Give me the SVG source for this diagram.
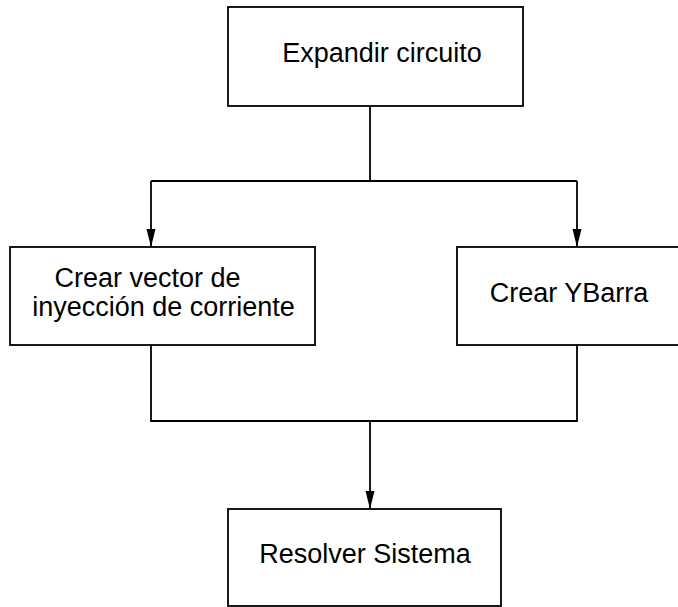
<svg xmlns="http://www.w3.org/2000/svg" width="678" height="607" viewBox="0 0 678 607">
  <style>
    .box { fill: #ffffff; stroke: #000000; stroke-width: 1.8; }
    .label { font-family: "Liberation Sans", Arial, sans-serif; font-size: 27px; fill: #000000; text-anchor: middle; }
    .wire { fill: none; stroke: #000000; stroke-width: 1.8; }
  </style>
  <defs>
    <marker id="arrow" viewBox="0 0 18 10" refX="18" refY="5" markerUnits="userSpaceOnUse" markerWidth="18" markerHeight="10" orient="auto">
      <path d="M0,0.5 L18,5 L0,9.5 Z" fill="#000000"/>
    </marker>
  </defs>
  <rect width="678" height="607" fill="#ffffff"/>

  <g id="connectors">
    <path class="wire" d="M370,106 V181"/>
    <path class="wire" d="M151,181 H577"/>
    <path class="wire" d="M151,181 V247" marker-end="url(#arrow)"/>
    <path class="wire" d="M577,181 V247" marker-end="url(#arrow)"/>
    <path class="wire" d="M151,345 V421 H577 V345"/>
    <path class="wire" d="M370,421 V509" marker-end="url(#arrow)"/>
  </g>

  <g id="expandir">
    <rect class="box" x="228" y="7" width="295" height="99"/>
    <text class="label" x="382" y="62">Expandir circuito</text>
  </g>

  <g id="vector-inyeccion">
    <rect class="box" x="10" y="247" width="305" height="98"/>
    <text class="label" x="147.5" y="287">Crear vector de</text>
    <text class="label" x="163.5" y="316">inyección de corriente</text>
  </g>

  <g id="ybarra">
    <rect class="box" x="457" y="247" width="240" height="98"/>
    <text class="label" x="569" y="302">Crear YBarra</text>
  </g>

  <g id="resolver">
    <rect class="box" x="228" y="509" width="273" height="97"/>
    <text class="label" x="365" y="563">Resolver Sistema</text>
  </g>
</svg>
